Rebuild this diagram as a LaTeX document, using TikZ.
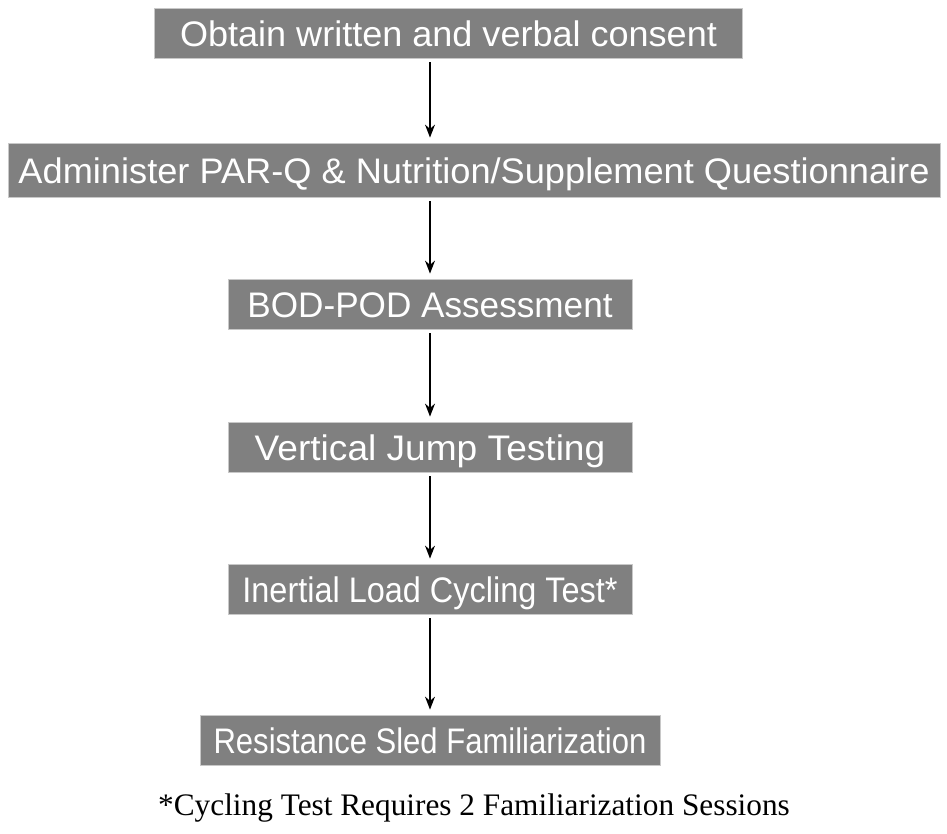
\documentclass[tikz,border=0pt]{standalone}
\usepackage{fontspec}
\usepackage{graphicx}
\setmainfont{Liberation Serif}
\setsansfont{Liberation Sans}
\usetikzlibrary{arrows.meta}
\definecolor{boxgray}{RGB}{128,128,128}
\definecolor{edgegray}{RGB}{200,200,200}
\newcommand{\squeeze}[2]{\scalebox{#1}[1]{#2}}
\tikzstyle{stage} = [rectangle, minimum height=50pt, inner sep=0pt, text height=27pt, text depth=0pt, fill=boxgray, draw=edgegray, line width=0.8pt, text=white, font=\sffamily\fontsize{35.5}{40}\selectfont]
\tikzstyle{arrow} = [line width=1.3pt, -{Stealth[length=13pt, width=10pt]}, shorten >=5pt, shorten <=4pt]

\begin{document}
\begin{tikzpicture}[x=1pt, y=-1pt]
   \useasboundingbox (0,0) rectangle (947,833);
   \node (consent) [stage, minimum width=588pt] at (448.5,33) {\squeeze{1.015}{Obtain written and verbal consent}};
   \node (parq) [stage, minimum width=932pt, minimum height=54pt, node distance=137pt, below of=consent, xshift=25.5pt] {\squeeze{1.02}{Administer PAR-Q \& Nutrition/Supplement Questionnaire}};
   \node (bodpod) [stage, minimum width=404pt, node distance=134pt, below of=parq, xshift=-44pt] {\squeeze{0.99}{BOD-POD Assessment}};
   \node (jump) [stage, minimum width=404pt, node distance=143pt, below of=bodpod] {\squeeze{1.045}{Vertical Jump Testing}};
   \node (cycle) [stage, minimum width=404pt, node distance=142pt, below of=jump] {\squeeze{0.914}{Inertial Load Cycling Test*}};
   \node (sled) [stage, minimum width=460pt, node distance=151pt, below of=cycle] {\squeeze{0.874}{Resistance Sled Familiarization}};
   \node (note) [font=\fontsize{31.3}{36}\selectfont, node distance=68pt, below of=sled, xshift=44pt] {*Cycling Test Requires 2 Familiarization Sessions};
   \coordinate (axis) at (430,0);
   \foreach \a/\b in {consent/parq, parq/bodpod, bodpod/jump, jump/cycle, cycle/sled}
      \draw [arrow] (\a.south -| axis) -- (\b.north -| axis);
\end{tikzpicture}
\end{document}
